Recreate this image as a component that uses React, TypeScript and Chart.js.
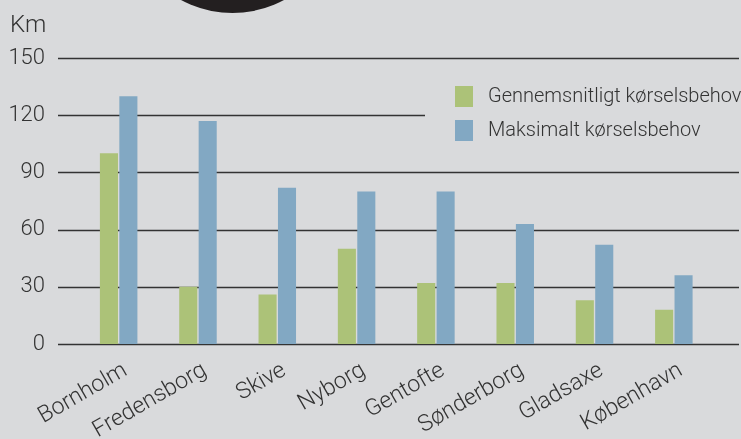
import React, { useEffect, useRef } from "react";
import { Chart, registerables } from "chart.js";

Chart.register(...registerables);

const categories = ["Bornholm", "Fredensborg", "Skive", "Nyborg", "Gentofte", "Sønderborg", "Gladsaxe", "København"];
const averageKm = [100, 30, 26, 50, 32, 32, 23, 18];
const maxKm = [130, 117, 82, 80, 80, 63, 52, 36];
const yTickValues = [0, 30, 60, 90, 120, 150];
const seriesLabels = ["Gennemsnitligt kørselsbehov", "Maksimalt kørselsbehov"];
const unitLabel = "Km";

const BG = "#d9dadc";
const GREEN = "#acc278";
const BLUE = "#82a8c3";
const TEXT = "#333333";
const GRID = "#333333";
const FONT = "Roboto";

const W = 741;
const H = 439;

const decorPlugin = {
  id: "decor",
  beforeDatasetsDraw(chart: any) {
    const ctx = chart.ctx;
    const y = chart.scales.y;
    ctx.save();
    ctx.strokeStyle = GRID;
    ctx.lineWidth = 1.6;
    yTickValues.forEach((v) => {
      const py = Math.round(y.getPixelForValue(v)) + 0.5;
      ctx.beginPath();
      ctx.moveTo(58, py);
      ctx.lineTo(739, py);
      ctx.stroke();
    });
    // legend box background covering grid
    ctx.fillStyle = BG;
    ctx.fillRect(425, 75, W - 425, 80);
    ctx.restore();
  },
  afterDraw(chart: any) {
    const ctx = chart.ctx;
    ctx.save();
    // unit label
    ctx.fillStyle = TEXT;
    ctx.font = `300 24px ${FONT}`;
    ctx.textAlign = "left";
    ctx.textBaseline = "alphabetic";
    ctx.fillText(unitLabel, 10, 32);
    // legend
    const colors = [GREEN, BLUE];
    chart.data.datasets.forEach((ds: any, i: number) => {
      const top = 86 + i * 34;
      ctx.fillStyle = colors[i];
      ctx.fillRect(455, top, 18, 21);
      ctx.fillStyle = TEXT;
      ctx.font = `300 20px ${FONT}`;
      ctx.textBaseline = "middle";
      ctx.fillText(ds.label, 488, top + 11);
    });
    ctx.restore();
  },
};

export default function App() {
  const ref = useRef<HTMLCanvasElement | null>(null);

  useEffect(() => {
    document.body.style.margin = "0";
    document.body.style.background = BG;
    const canvas = ref.current;
    if (!canvas) return;
    const chart = new Chart(canvas, {
      type: "bar",
      data: {
        labels: categories,
        datasets: [
          {
            label: seriesLabels[0],
            data: averageKm,
            backgroundColor: GREEN,
            categoryPercentage: 0.49,
            barPercentage: 0.93,
          },
          {
            label: seriesLabels[1],
            data: maxKm,
            backgroundColor: BLUE,
            categoryPercentage: 0.49,
            barPercentage: 0.93,
          },
        ],
      },
      options: {
        responsive: false,
        animation: false,
        maintainAspectRatio: false,
        layout: { padding: { left: 0, right: 27.5, top: 58, bottom: 0 } },
        plugins: {
          legend: { display: false },
          tooltip: { enabled: false },
        },
        scales: {
          x: {
            grid: { display: false, drawTicks: false },
            border: { display: false },
            ticks: {
              color: TEXT,
              font: { family: FONT, size: 23, weight: "300" },
              maxRotation: 30,
              minRotation: 30,
              padding: 13,
              labelOffset: 7,
              autoSkip: false,
            },
            afterFit(scale: any) {
              scale.height = H - 344;
            },
          },
          y: {
            min: 0,
            max: 150,
            grid: { display: false, drawTicks: false },
            border: { display: false },
            ticks: {
              stepSize: 30,
              color: TEXT,
              font: { family: FONT, size: 22, weight: "300" },
              padding: 34,
            },
            afterFit(scale: any) {
              scale.width = 79;
            },
          },
        },
      },
      plugins: [decorPlugin],
    } as any);
    return () => chart.destroy();
  }, []);

  return (
    <div style={{ position: "relative", width: W, height: H, overflow: "hidden", background: BG }}>
      <div
        style={{
          position: "absolute",
          left: 123.5,
          top: -204,
          width: 217,
          height: 217,
          borderRadius: "50%",
          background: "#231f20",
        }}
      />
      <canvas ref={ref} width={W} height={H} style={{ position: "absolute", left: 0, top: 0, display: "block" }} />
    </div>
  );
}
